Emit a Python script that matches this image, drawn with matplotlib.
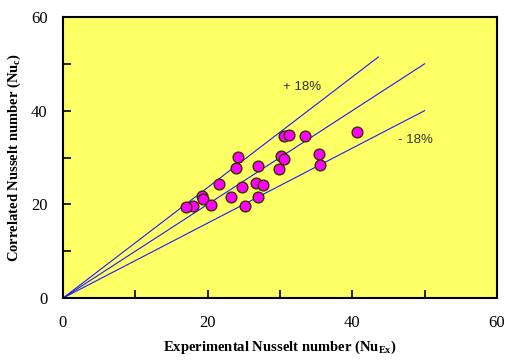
import matplotlib
matplotlib.use("Agg")
import matplotlib.pyplot as plt
import numpy as np

nu_ex = [30.5, 31.3, 33.4, 24.2, 30.2, 30.6, 35.4, 35.6, 23.9, 26.9, 29.9, 21.6,
         24.7, 26.7, 27.7, 19.2, 19.4, 23.2, 26.9, 20.5, 18.0, 17.0, 25.2, 40.7]
nu_c = [34.6, 34.8, 34.6, 30.1, 30.4, 29.7, 30.7, 28.4, 27.8, 28.2, 27.6, 24.4,
        23.7, 24.5, 24.1, 21.8, 21.1, 21.6, 21.5, 19.9, 19.7, 19.4, 19.7, 35.4]

line_x_end = [43.6, 50.0, 50.0]
line_slope = [1.18, 1.0, 0.80]
labels_txt = ["+ 18%", "- 18%"]

fig = plt.figure(figsize=(5.1, 3.6), dpi=100)
ax = fig.add_axes([0.1235, 0.172, 0.851, 0.781])
ax.set_facecolor("#FFFF66")

for xe, s in zip(line_x_end, line_slope):
    ax.plot([0, xe], [0, s * xe], color="#1a1aff", lw=0.8, zorder=2)

ax.scatter(nu_ex, nu_c, s=60, facecolor="#FF00FF", edgecolor="#333300", linewidth=1.0, zorder=3)

ax.text(33.0, 45.0, labels_txt[0], fontsize=9.5, family="Liberation Sans", ha="center", va="center", color="#333333")
ax.text(48.7, 33.8, labels_txt[1], fontsize=9.5, family="Liberation Sans", ha="center", va="center", color="#333333")

ax.set_xlim(0, 60)
ax.set_ylim(0, 60)
ax.set_xticks([0, 20, 40, 60])
ax.set_yticks([0, 20, 40, 60])
ax.set_xticks([10, 30, 50], minor=True)
ax.set_yticks([10, 30, 50], minor=True)
ax.tick_params(which="both", direction="in", length=6, width=1.2)
ax.tick_params(axis="x", which="major", labelsize=12, pad=12)
ax.tick_params(axis="y", which="major", labelsize=12, pad=11)
for lab in ax.get_xticklabels() + ax.get_yticklabels():
    lab.set_family("Liberation Serif")
for sp in ax.spines.values():
    sp.set_linewidth(1.5)

ax.set_xlabel("Experimental Nusselt number (Nu$_{\\mathregular{Ex}}$)", family="Liberation Serif",
              fontweight="bold", fontsize=10.5, labelpad=6)
ax.set_ylabel("Correlated Nusselt number (Nu$_{\\mathregular{c}}$)", family="Liberation Serif",
              fontweight="bold", fontsize=10.5, labelpad=6)

fig.savefig("out.png", dpi=100, facecolor="white")
